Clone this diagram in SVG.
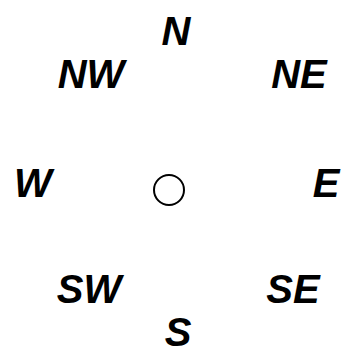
<svg xmlns="http://www.w3.org/2000/svg" width="347" height="354" viewBox="0 0 347 354">
<style>
text{font-family:"Liberation Sans",Arial,sans-serif;font-weight:bold;font-style:italic;font-size:40px;fill:#000;text-anchor:middle}
</style>
<rect width="347" height="354" fill="#fff"/>
<g id="center"><circle cx="169" cy="190" r="15" fill="none" stroke="#000" stroke-width="2"/></g>
<g id="N"><text x="176" y="45">N</text></g>
<g id="NW"><text x="91" y="88">NW</text></g>
<g id="NE"><text x="299" y="88">NE</text></g>
<g id="W"><text x="33" y="197">W</text></g>
<g id="E"><text x="326" y="197">E</text></g>
<g id="SW"><text x="89" y="303">SW</text></g>
<g id="SE"><text x="293" y="303">SE</text></g>
<g id="S"><text x="178" y="346">S</text></g>
<g id="connectors"></g>
</svg>
